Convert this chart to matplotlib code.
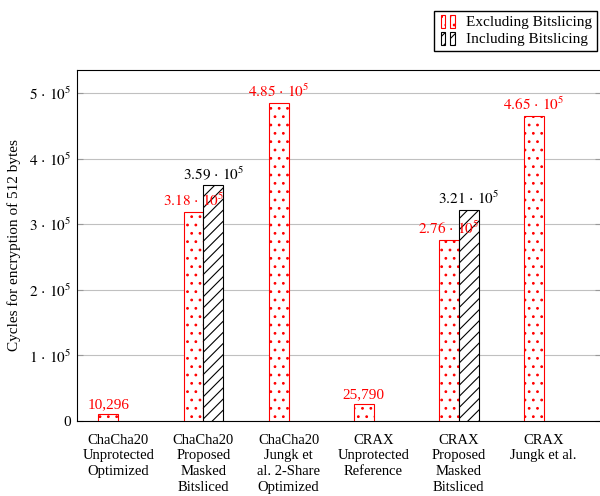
import matplotlib
matplotlib.use("Agg")
import matplotlib.pyplot as plt
from matplotlib.legend_handler import HandlerBase
from matplotlib.patches import Patch, Rectangle
import numpy as np

# data
categories = [
    "ChaCha20\nUnprotected\nOptimized",
    "ChaCha20\nProposed\nMasked\nBitsliced",
    "ChaCha20\nJungk et\nal. 2-Share\nOptimized",
    "CRAX\nUnprotected\nReference",
    "CRAX\nProposed\nMasked\nBitsliced",
    "CRAX\nJungk et al.",
]
excl_values = [10296, 318000, 485000, 25790, 276000, 465000]
excl_labels = ["10,296", r"$3.18\,\cdot\,10^5$", r"$4.85\,\cdot\,10^5$", "25,790",
               r"$2.76\,\cdot\,10^5$", r"$4.65\,\cdot\,10^5$"]
incl_idx = [1, 4]
incl_values = [359000, 321000]
incl_labels = [r"$3.59\,\cdot\,10^5$", r"$3.21\,\cdot\,10^5$"]
yticks = [0, 100000, 200000, 300000, 400000, 500000]
ytick_labels = ["0", r"$1\,\cdot\,10^5$", r"$2\,\cdot\,10^5$", r"$3\,\cdot\,10^5$",
                r"$4\,\cdot\,10^5$", r"$5\,\cdot\,10^5$"]

plt.rcParams["font.family"] = ["Liberation Serif", "DejaVu Serif"]
plt.rcParams["mathtext.fontset"] = "stix"
plt.rcParams["hatch.linewidth"] = 0.8


class TwoBarHandler(HandlerBase):
    # pgfplots style legend: two little bars
    def create_artists(self, legend, orig_handle, xdescent, ydescent,
                       width, height, fontsize, trans):
        w = width * 0.24
        arts = []
        for x0 in (width * 0.1, width * 0.62):
            r = Rectangle((x0 - xdescent, -ydescent - 1.5), w, height * 1.2,
                          facecolor="white", edgecolor=orig_handle.get_edgecolor(),
                          hatch=orig_handle.get_hatch(), lw=0.8, transform=trans)
            arts.append(r)
        return arts


fig = plt.figure(figsize=(6, 4.96), dpi=100)
ax = fig.add_axes([0.128, 0.151, 0.873, 0.708])

x = np.arange(len(categories))
bw = 0.235

ax.bar(x - bw / 2, excl_values, width=bw, facecolor="white", edgecolor="red",
       hatch="..", linewidth=0.8, zorder=3)
ax.bar(x[incl_idx] + bw / 2, incl_values, width=bw, facecolor="white",
       edgecolor="black", hatch="///", linewidth=0.8, zorder=3)

for xi, v, lab in zip(x, excl_values, excl_labels):
    ax.text(xi - bw / 2, v + 9000, lab, ha="center", va="baseline",
            color="red", fontsize=11, zorder=4)
for xi, v, lab in zip(x[incl_idx], incl_values, incl_labels):
    ax.text(xi + bw / 2, v + 9000, lab, ha="center", va="baseline",
            color="black", fontsize=11, zorder=4)

ax.set_xlim(-0.49, 5.67)
ax.set_ylim(0, 535000)
ax.set_xticks(x)
ax.set_xticklabels(categories, fontsize=10.5, linespacing=1.28)
ax.tick_params(axis="x", length=0, pad=9)
ax.set_yticks(yticks)
ax.set_yticklabels(ytick_labels, fontsize=11)
ax.tick_params(axis="y", direction="in", length=4, color="#999999",
               right=True, pad=4)
ax.grid(axis="y", color="#c0c0c0", linewidth=0.8, zorder=0)
for s in ax.spines.values():
    s.set_linewidth(0.8)
ax.set_ylabel("Cycles for encryption of 512 bytes", fontsize=11, labelpad=6)

handles = [Patch(facecolor="white", edgecolor="red", hatch=".."),
           Patch(facecolor="white", edgecolor="black", hatch="///")]
fig.legend(handles, ["Excluding Bitslicing", "Including Bitslicing"],
           loc="upper right", bbox_to_anchor=(0.995, 0.978),
           handler_map={Patch: TwoBarHandler()}, fontsize=11,
           frameon=True, fancybox=False, framealpha=1, edgecolor="black",
           handlelength=1.2, handletextpad=0.6, borderpad=0.3,
           labelspacing=0.2, borderaxespad=0)

fig.savefig("out.png", dpi=100)
